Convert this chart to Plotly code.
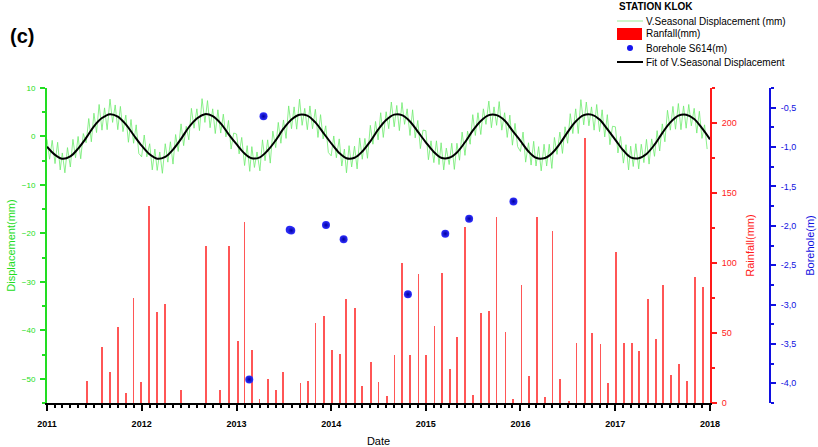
import plotly.graph_objects as go
import pandas as pd

# ---------------- data ----------------
years = [2011, 2012, 2013, 2014, 2015, 2016, 2017]
sample_days = [1, 11, 21]

disp_2011 = [-0.6,-4.7,-0.8, -5.6,-1.2,-6.9, -3.4,-7.5,-2.3, -6.3,-0.6,-4.4, 0.0,-4.6,0.6, -1.3,3.7,-1.1,
             4.8,0.8,6.6, 1.3,5.9,1.4, 7.7,2.9,6.5, 1.4,6.2,1.0, 4.4,-1.2,3.5, -1.4,2.4,-3.5]
disp_2012 = [-4.2,0.3,-4.2, -1.5,-6.9,-2.6, -7.0,-3.2,-7.6, -1.5,-5.3,-1.1, -5.7,0.4,-3.1, 2.6,-1.9,2.1,
             -0.7,5.8,1.7, 5.7,1.2,7.8, 2.9,7.4,1.8, 5.7,0.6,5.5, 0.7,4.6,-0.1, 3.3,-2.6,0.7]
disp_2013 = [0.5,-3.6,-0.2, -6.0,-1.9,-7.2, -2.1,-6.4,-3.2, -7.1,-0.7,-5.0, -0.7,-5.5,1.1, -2.3,2.9,-1.4,
             3.4,-0.4,6.3, 1.6,6.1,1.5, 7.7,2.3,5.8, 1.4,6.3,1.6, 5.6,-0.2,4.5, -0.5,2.2,-3.3]
disp_2014 = [-4.0,0.1,-4.4, -0.5,-6.1,-2.6, -7.5,-1.9,-6.3, -2.0,-6.7,-0.3, -4.7,-0.4,-4.5, 2.3,-1.6,3.1,
             -0.7,4.9,-0.2, 5.1,1.6,7.1, 2.0,6.4,1.2, 7.0,2.5,5.7, 0.2,5.5,-0.3, 3.3,-2.5,1.3]
disp_2015 = [1.2,-4.8,-0.9, -5.4,-0.9,-5.8, -1.3,-6.9,-2.4, -5.8,-1.4,-6.8, -1.4,-4.9,0.9, -3.9,1.1,-1.6,
             4.5,0.2,4.9, 0.4,5.7,2.5, 7.3,1.8,6.1, 2.3,7.2,1.3, 4.9,-0.2,4.4, -1.8,2.7,-2.1]
disp_2016 = [-3.1,0.9,-5.3, -1.3,-5.9,-1.0, -6.1,-2.1,-7.1, -1.6,-6.1,-1.6, -6.6,-0.2,-3.7, 0.9,-3.5,2.0,
             -1.4,4.7,0.6, 5.7,0.6,7.6, 2.4,7.1,2.2, 6.1,1.3,6.6, 1.0,5.5,-0.1, 4.5,-1.7,2.1]
disp_2017 = [2.0,-3.4,0.0, -5.5,-1.7,-6.9, -2.0,-6.2,-1.5, -6.7,-1.6,-5.4, -0.6,-5.7,-0.5, -4.1,1.2,-3.0,
             2.6,-1.1,5.4, 1.3,6.2,1.5, 6.8,1.4,6.3, 1.7,6.6,2.2, 5.8,0.7,5.2, -0.4,2.4,-2.6]

fit_2011 = [-2.1,-3.8,-4.6,-4.1,-2.5,-0.3,2.1,3.8,4.6,4.1,2.5,0.3]
fit_2012 = [-1.9,-3.7,-4.6,-4.2,-2.7,-0.5,1.9,3.7,4.6,4.2,2.7,0.5]
fit_2013 = [-1.6,-3.5,-4.5,-4.3,-2.9,-0.8,1.6,3.5,4.5,4.3,2.9,0.8]
fit_2014 = [-1.4,-3.4,-4.5,-4.4,-3.1,-1.0,1.4,3.4,4.5,4.4,3.1,1.0]
fit_2015 = [-1.2,-3.2,-4.4,-4.4,-3.3,-1.2,1.2,3.2,4.4,4.4,3.3,1.2]
fit_2016 = [-0.9,-3.1,-4.4,-4.5,-3.5,-1.5,0.9,3.1,4.4,4.5,3.5,1.5]
fit_2017 = [-0.7,-2.9,-4.3,-4.5,-3.6,-1.7,0.7,2.9,4.3,4.5,3.6,1.7]
fit_end = [-0.6]

rain_dates = ["2011-06-03","2011-07-31","2011-08-31","2011-10-02","2011-11-01","2011-12-01","2011-12-29",
              "2012-01-29","2012-03-01","2012-04-01","2012-06-01","2012-09-04","2012-10-30","2012-12-02",
              "2013-01-06","2013-02-01","2013-03-01","2013-03-31","2013-05-02","2013-06-01","2013-06-30",
              "2013-09-05","2013-10-03","2013-11-02","2013-12-04",
              "2014-01-03","2014-02-04","2014-02-27","2014-04-02","2014-05-01","2014-06-04","2014-07-02",
              "2014-08-03","2014-09-02","2014-10-02","2014-11-02","2014-12-04",
              "2015-01-02","2015-02-04","2015-03-05","2015-04-04","2015-05-02","2015-06-02","2015-07-03",
              "2015-08-02","2015-09-02","2015-09-30","2015-11-04","2015-12-03",
              "2016-01-05","2016-02-02","2016-03-06","2016-04-04","2016-05-04","2016-06-02","2016-07-05",
              "2016-08-04","2016-09-06","2016-10-04","2016-11-05","2016-12-03",
              "2017-01-03","2017-02-04","2017-03-05","2017-04-03","2017-05-06","2017-06-07","2017-07-05",
              "2017-08-04","2017-09-04","2017-10-04","2017-11-04","2017-12-04"]
rain_mm = [16, 40, 22, 54, 7, 75, 15,
           141, 65, 71, 9, 112, 9, 112,
           44, 129, 38, 3, 17, 9, 22,
           14, 16, 57, 62,
           38, 35, 74, 68, 12, 29, 15,
           5, 34, 100, 34, 92,
           34, 55, 93, 24, 47, 126, 6,
           64, 66, 133, 51, 3,
           84, 19, 133, 4, 123, 17, 1.5,
           43, 189, 50, 42, 14,
           108, 43, 43, 37, 74, 46, 84,
           20, 28, 16, 90, 83]

bh_dates = ["2013-02-19","2013-04-15","2013-07-25","2013-07-31","2013-12-12","2014-02-18",
            "2014-10-24","2015-03-17","2015-06-17","2015-12-05"]
bh_m = [-3.95, -0.61, -2.05, -2.06, -1.99, -2.17, -2.87, -2.10, -1.91, -1.69]

blue_ticks = [-0.5, -1.0, -1.5, -2.0, -2.5, -3.0, -3.5, -4.0]
blue_ticktext = ["-0,5", "-1,0", "-1,5", "-2,0", "-2,5", "-3,0", "-3,5", "-4,0"]

# ---------------- assemble ----------------
disp_vals = disp_2011 + disp_2012 + disp_2013 + disp_2014 + disp_2015 + disp_2016 + disp_2017
disp_dates = [pd.Timestamp(y, m, d) for y in years for m in range(1, 13) for d in sample_days]
fit_vals = fit_2011 + fit_2012 + fit_2013 + fit_2014 + fit_2015 + fit_2016 + fit_2017 + fit_end
fit_dates = [pd.Timestamp(y, m, 1) for y in years for m in range(1, 13)] + [pd.Timestamp(2018, 1, 1)]

GREEN = "#22dd22"
RED = "#ff1a1a"
BLUE = "#1010e0"
FONT = "Arial"

fig = go.Figure()
fig.add_trace(go.Bar(x=rain_dates, y=rain_mm, yaxis="y", width=6.5 * 86400000,
                     marker=dict(color="rgba(255,30,30,0.75)", line=dict(width=0)),
                     showlegend=False))
fig.add_trace(go.Scatter(x=disp_dates, y=disp_vals, yaxis="y2", mode="lines",
                         line=dict(color="rgba(110,235,110,0.8)", width=1), showlegend=False))
fig.add_trace(go.Scatter(x=fit_dates, y=fit_vals, yaxis="y2", mode="lines",
                         line=dict(color="black", width=2, shape="spline", smoothing=1.0),
                         showlegend=False))
fig.add_trace(go.Scatter(x=bh_dates, y=bh_m, yaxis="y3", mode="markers",
                         marker=dict(size=8, color="#3030ff",
                                     gradient=dict(type="radial", color="#0000a0"),
                                     line=dict(width=0)),
                         showlegend=False))

L, R, T, B = 47, 30, 88, 44
PW = 818 - L - R
PH = 447 - T - B
def px(x):
    return (x - L) / PW
def py(y):
    return (447 - B - y) / PH

fig.update_layout(
    width=818, height=447,
    margin=dict(l=L, r=R, t=T, b=B, autoexpand=False),
    paper_bgcolor="white", plot_bgcolor="white",
    bargap=0, barmode="overlay",
    font=dict(family=FONT),
    xaxis=dict(domain=[0, px(710)], type="date", range=["2011-01-01", "2018-01-01"],
               dtick="M12", tickformat="%Y", ticks="outside", ticklen=6, tickwidth=1.5,
               tickcolor="black", showline=True, linecolor="black", linewidth=1.5,
               showgrid=False, zeroline=False, ticklabelstandoff=5, automargin=False,
               tickfont=dict(family=FONT, size=9, weight="bold", color="black"),
               minor=dict(ticks="outside", dtick="M1", ticklen=3, tickcolor="black", tickwidth=1.5),
               title=dict(text="Date", font=dict(family=FONT, size=11, color="black"), standoff=12)),
    yaxis=dict(side="right", anchor="x", range=[0, 225], tickvals=[0, 50, 100, 150, 200],
               ticks="outside", ticklen=5, tickwidth=1.5, tickcolor=RED,
               showline=True, linecolor=RED, linewidth=2, showgrid=False, zeroline=False,
               ticklabelstandoff=3, automargin=False,
               tickfont=dict(family=FONT, size=9, color=RED),
               minor=dict(ticks="outside", dtick=25, ticklen=3, tickcolor=RED, tickwidth=1.5),
               title=dict(text="Rainfall(mm)", font=dict(family=FONT, size=11, color=RED), standoff=10)),
    yaxis2=dict(side="left", overlaying="y", anchor="x", range=[-55, 10],
                tickvals=[10, 0, -10, -20, -30, -40, -50],
                ticks="outside", ticklen=5, tickwidth=1.5, tickcolor=GREEN,
                showline=True, linecolor=GREEN, linewidth=2, showgrid=False, zeroline=False,
                ticklabelstandoff=3, automargin=False,
                tickfont=dict(family=FONT, size=8, color=GREEN),
                minor=dict(ticks="outside", dtick=5, ticklen=3, tickcolor=GREEN, tickwidth=1.5),
                title=dict(text="Displacement(mm)", font=dict(family=FONT, size=11, color=GREEN), standoff=4)),
    yaxis3=dict(side="right", overlaying="y", anchor="free", position=px(770), range=[-4.25, -0.25],
                tickvals=blue_ticks, ticktext=blue_ticktext,
                ticks="outside", ticklen=5, tickwidth=1.5, tickcolor=BLUE,
                showline=True, linecolor=BLUE, linewidth=2, showgrid=False, zeroline=False,
                ticklabelstandoff=3, automargin=False,
                tickfont=dict(family=FONT, size=9, color=BLUE),
                minor=dict(ticks="outside", dtick=0.25, tick0=-0.25, ticklen=3, tickcolor=BLUE, tickwidth=1.5),
                title=dict(text="Borehole(m)", font=dict(family=FONT, size=11, color=BLUE), standoff=10)),
)

shapes = []
annots = []
# (c) label
annots.append(dict(text="<b>(c)</b>", x=px(8), y=py(36), xref="paper", yref="paper",
                   xanchor="left", yanchor="middle", showarrow=False,
                   font=dict(family=FONT, size=20, color="black")))
# legend
annots.append(dict(text="<b>STATION KLOK</b>", x=px(617), y=py(6), xref="paper", yref="paper",
                   xanchor="left", yanchor="middle", showarrow=False,
                   font=dict(family=FONT, size=10, color="black")))
leg_items = [("V.Seasonal Displacement (mm)", 21), ("Ranfall(mm)", 34),
             ("Borehole S614(m)", 48), ("Fit of V.Seasonal Displacement", 62)]
for txt, yy in leg_items:
    annots.append(dict(text=txt, x=px(644), y=py(yy), xref="paper", yref="paper",
                       xanchor="left", yanchor="middle", showarrow=False,
                       font=dict(family=FONT, size=10, color="black")))
shapes.append(dict(type="line", xref="paper", yref="paper", x0=px(617), x1=px(643),
                   y0=py(21), y1=py(21), line=dict(color="#99ee99", width=1)))
shapes.append(dict(type="rect", xref="paper", yref="paper", x0=px(617), x1=px(642),
                   y0=py(40), y1=py(28), fillcolor="#ff0000", line=dict(width=0)))
shapes.append(dict(type="circle", xref="paper", yref="paper", x0=px(627), x1=px(633),
                   y0=py(51), y1=py(45), fillcolor="#1515ee", line=dict(width=0)))
shapes.append(dict(type="line", xref="paper", yref="paper", x0=px(617), x1=px(643),
                   y0=py(62), y1=py(62), line=dict(color="black", width=2)))

fig.update_layout(shapes=shapes, annotations=annots)
fig.write_html("out.html")
